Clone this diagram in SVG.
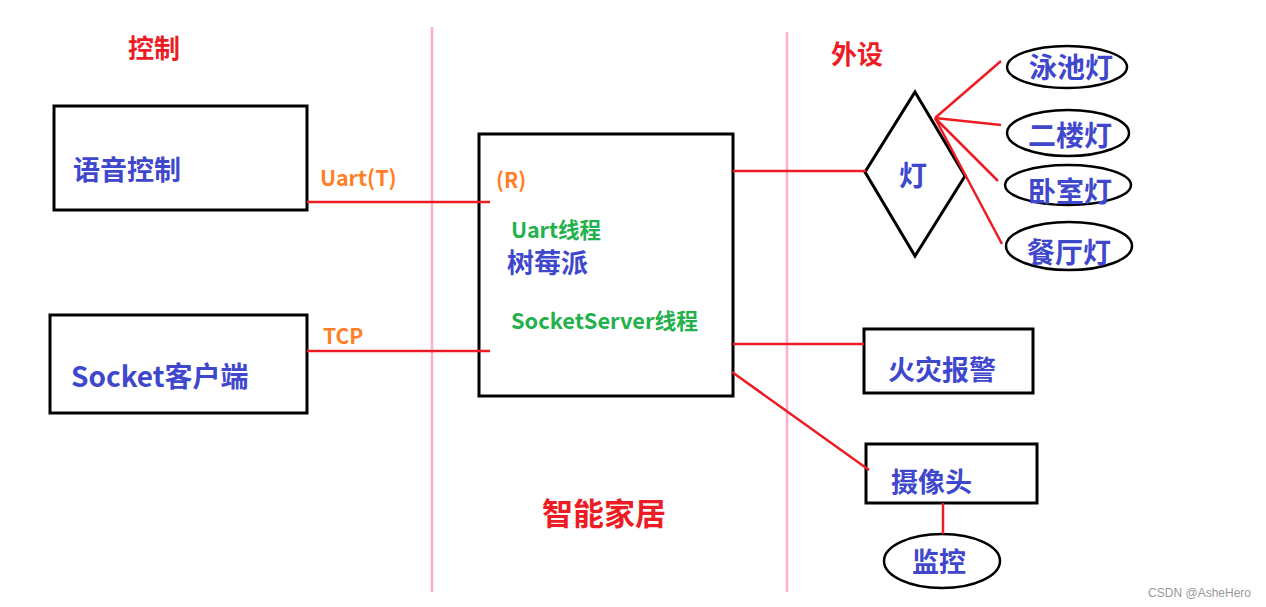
<svg xmlns="http://www.w3.org/2000/svg" width="1266" height="607" viewBox="0 0 1266 607">
<style>
.t{font-family:"Noto Sans CJK SC","Noto Sans",sans-serif;font-weight:bold}
.blue{fill:#3F48CC}
.red{fill:#ED1C24}
.org{fill:#FF7F27}
.grn{fill:#22B14C}
.box{fill:#fff;stroke:#000;stroke-width:3}
.ell{fill:#fff;stroke:#000;stroke-width:2.5}
.ln{stroke:#ED1C24;stroke-width:2.5;fill:none}
.pk{stroke:#FFAEC9;stroke-width:2.5;fill:none}
</style>
<rect width="1266" height="607" fill="#fff"/>
<g id="dividers">
<line class="pk" x1="432" y1="27" x2="432" y2="592"/>
<line class="pk" x1="787" y1="32" x2="787" y2="592"/>
</g>
<g id="section-labels">
<text class="t red" x="128" y="58" font-size="26">控制</text>
<text class="t red" x="831" y="64" font-size="26">外设</text>
<text class="t red" x="542" y="525" font-size="31">智能家居</text>
<text class="t org" x="320" y="186" font-size="21.5">Uart(T)</text>
<text class="t org" x="323" y="344" font-size="21">TCP</text>
</g>
<g id="voice">
<rect class="box" x="54" y="106" width="253" height="104"/>
<text class="t blue" x="73" y="180" font-size="27">语音控制</text>
</g>
<g id="socket-client">
<rect class="box" x="50" y="315" width="257" height="98"/>
<text class="t blue" x="71" y="387" font-size="28">Socket客户端</text>
</g>
<g id="raspberry">
<rect class="box" x="479" y="134" width="254" height="262"/>
<text class="t org" x="496" y="188" font-size="21">(R)</text>
<text class="t grn" x="511" y="238" font-size="21.5">Uart线程</text>
<text class="t blue" x="507" y="273" font-size="27">树莓派</text>
<text class="t grn" x="511" y="329" font-size="21.8">SocketServer线程</text>
</g>
<g id="lamp">
<polygon class="box" points="915,92 965,176 915,256 865,172"/>
<text class="t blue" x="899" y="186" font-size="28">灯</text>
</g>
<g id="pool-lamp">
<ellipse class="ell" cx="1067" cy="67" rx="60" ry="21"/>
<text class="t blue" x="1029" y="78" font-size="28">泳池灯</text>
</g>
<g id="floor2-lamp">
<ellipse class="ell" cx="1068" cy="133" rx="61" ry="23"/>
<text class="t blue" x="1028" y="146" font-size="28">二楼灯</text>
</g>
<g id="bedroom-lamp">
<ellipse class="ell" cx="1068" cy="185" rx="63" ry="20"/>
<text class="t blue" x="1028" y="202" font-size="28">卧室灯</text>
</g>
<g id="dining-lamp">
<ellipse class="ell" cx="1069" cy="246" rx="63" ry="24"/>
<text class="t blue" x="1027" y="263" font-size="28">餐厅灯</text>
</g>
<g id="fire-alarm">
<rect class="box" x="864" y="329" width="169" height="64"/>
<text class="t blue" x="888" y="380" font-size="27">火灾报警</text>
</g>
<g id="camera">
<rect class="box" x="866" y="444" width="171" height="59"/>
<text class="t blue" x="891" y="492" font-size="27">摄像头</text>
</g>
<g id="monitor">
<ellipse class="ell" cx="942" cy="561" rx="58" ry="27"/>
<text class="t blue" x="912" y="572" font-size="27">监控</text>
</g>
<g id="connectors">
<line class="ln" x1="307" y1="202" x2="490" y2="202"/>
<line class="ln" x1="307" y1="351" x2="490" y2="351"/>
<line class="ln" x1="733" y1="171" x2="866" y2="171"/>
<line class="ln" x1="733" y1="344" x2="864" y2="344"/>
<line class="ln" x1="732" y1="372" x2="869" y2="470"/>
<line class="ln" x1="935" y1="118" x2="1001" y2="61"/>
<line class="ln" x1="935" y1="118" x2="1001" y2="125"/>
<line class="ln" x1="935" y1="118" x2="998" y2="181"/>
<line class="ln" x1="935" y1="118" x2="1002" y2="244"/>
<line class="ln" x1="943" y1="503" x2="943" y2="534"/>
</g>
<text x="1251" y="597" text-anchor="end" font-family="Liberation Sans,Arial,sans-serif" font-size="12" fill="#999">CSDN @AsheHero</text>
</svg>
